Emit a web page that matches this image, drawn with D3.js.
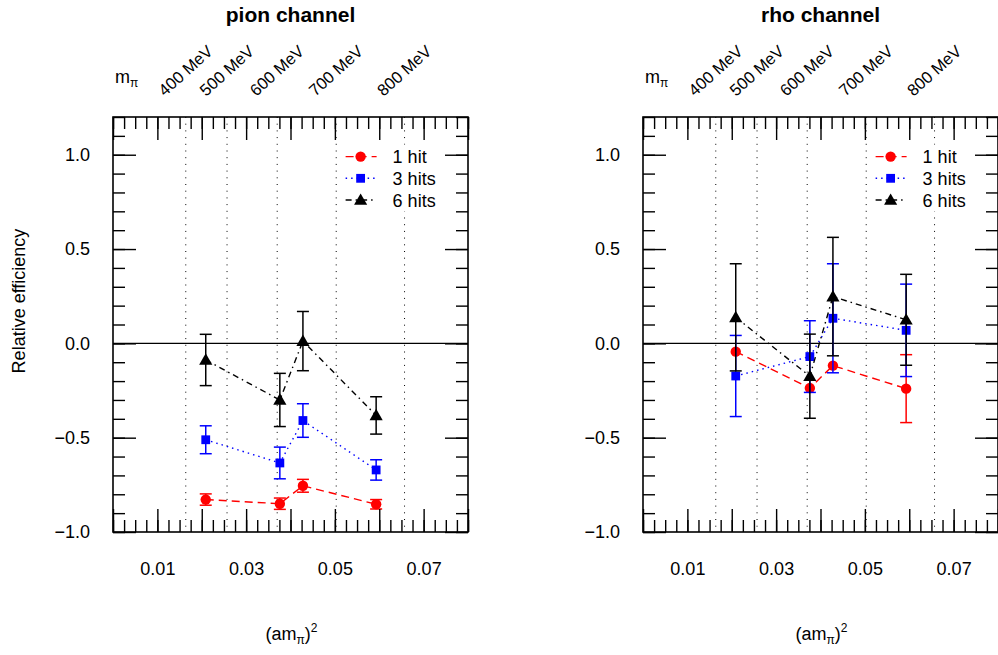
<!DOCTYPE html>
<html>
<head>
<meta charset="utf-8">
<script src="https://cdn.jsdelivr.net/npm/d3@7"></script>
<style>
  body { margin: 0; background: #fff; }
  svg text { font-family: "Liberation Sans", Arial, sans-serif; fill: #000; }
</style>
</head>
<body>
<div class="container"></div>
<script>
// values
const xVals = [0.0209, 0.0376, 0.0428, 0.0593]

const pion1 = [-0.828, -0.850, -0.755, -0.853]
const pion1Err = [0.030, 0.030, 0.034, 0.025]
const pion3 = [-0.511, -0.634, -0.409, -0.671]
const pion3Err = [0.074, 0.084, 0.089, 0.054]
const pion6 = [-0.088, -0.300, 0.012, -0.382]
const pion6Err = [0.136, 0.141, 0.157, 0.099]

// error bars hidden under the markers in the picture -> 0
const rho1 = [-0.044, -0.237, -0.118, -0.240]
const rho1Err = [0, 0, 0, 0.180]
const rho3 = [-0.173, -0.070, 0.133, 0.069]
const rho3Err = [0.215, 0.190, 0.289, 0.245]
const rho6 = [0.138, -0.174, 0.248, 0.125]
const rho6Err = [0.284, 0.223, 0.314, 0.241]

const massLabels = ["400 MeV", "500 MeV", "600 MeV", "700 MeV", "800 MeV"]
const massX = [0.0164, 0.0257, 0.0370, 0.0503, 0.0657]

const xMajor = [0, 0.01, 0.02, 0.03, 0.04, 0.05, 0.06, 0.07, 0.08]
const xMinor = d3.range(0, 0.0801, 0.0025)
const xLabels = [0.01, 0.03, 0.05, 0.07]
const yMajor = [-1, -0.5, 0, 0.5, 1]
const yMinor = d3.range(-1, 1.201, 0.1)
const yLabels = [-1, -0.5, 0, 0.5, 1]

const legendNames = ["1 hit", "3 hits", "6 hits"]

const w = 998
const h = 655
const pw = 355, ph = 415, plotTop = 117

const styles = [
  {color: "#ff0000", dash: "8,5", shape: "circle"},
  {color: "#0000ff", dash: "1.5,4", shape: "square"},
  {color: "#000000", dash: "6,4,1.5,4", shape: "triangle"}
]

const panels = [
  {title: "pion channel", left: 113, ylab: true,
   series: [[pion1, pion1Err], [pion3, pion3Err], [pion6, pion6Err]]},
  {title: "rho channel", left: 643, ylab: false,
   series: [[rho1, rho1Err], [rho3, rho3Err], [rho6, rho6Err]]}
]

const svg = d3.select(".container")
  .append("svg")
  .attr("width", w)
  .attr("height", h)

const x = d3.scaleLinear().domain([0, 0.08]).range([0, pw])
const y = d3.scaleLinear().domain([-1, 1.2]).range([ph, 0])

function marker(g, shape, cx, cy, color) {
  if (shape == "circle") {
    g.append("circle").attr("cx", cx).attr("cy", cy).attr("r", 5.2).attr("fill", color)
  } else if (shape == "square") {
    g.append("rect").attr("x", cx - 4.4).attr("y", cy - 4.4)
      .attr("width", 8.8).attr("height", 8.8).attr("fill", color)
  } else {
    g.append("path")
      .attr("d", d3.symbol(d3.symbolTriangle, 75)())
      .attr("transform", `translate(${cx},${cy + 1})`)
      .attr("fill", color)
  }
}

function tickAxis(g, axis, values, size) {
  g.call(axis.tickValues(values).tickSize(size).tickFormat(""))
  g.select(".domain").remove()
  g.selectAll(".tick line").attr("stroke", "#000").attr("stroke-width", 1.4)
}

panels.forEach(p => {
  const g = svg.append("g").attr("transform", `translate(${p.left},${plotTop})`)

  // mass lines (dotted)
  g.selectAll(".mline")
    .data(massX)
    .enter()
    .append("line")
    .attr("x1", d => x(d)).attr("x2", d => x(d))
    .attr("y1", y(1.2)).attr("y2", y(-1))
    .attr("stroke", "#000").attr("stroke-width", 1)
    .attr("stroke-dasharray", "1,5.7")

  g.selectAll(".mlab")
    .data(massLabels)
    .enter()
    .append("text")
    .attr("transform", (d, i) => `translate(${x(massX[i]) - 21},-20) rotate(-42)`)
    .attr("font-size", 16.5)
    .text(d => d)

  const ml = g.append("text").attr("x", 2).attr("y", -34).attr("font-size", 18)
  ml.append("tspan").text("m")
  ml.append("tspan").attr("font-size", 12).attr("dy", 4).text("π")

  // zero line
  g.append("line")
    .attr("x1", 0).attr("x2", pw)
    .attr("y1", y(0)).attr("y2", y(0))
    .attr("stroke", "#000").attr("stroke-width", 1.4)

  // series
  p.series.forEach((s, k) => {
    const st = styles[k]
    const vals = s[0], errs = s[1]
    const sg = g.append("g")
    const pts = xVals.map((xv, i) => [xv, vals[i]])
    sg.append("path")
      .datum(pts)
      .attr("d", d3.line().x(d => x(d[0])).y(d => y(d[1])))
      .attr("fill", "none")
      .attr("stroke", st.color)
      .attr("stroke-width", 1.4)
      .attr("stroke-dasharray", st.dash)
    xVals.forEach((xv, i) => {
      const cx = x(xv)
      if (errs[i] > 0) {
        const y1 = y(vals[i] + errs[i]), y2 = y(vals[i] - errs[i])
        sg.append("line").attr("x1", cx).attr("x2", cx).attr("y1", y1).attr("y2", y2)
          .attr("stroke", st.color).attr("stroke-width", 1.5)
        sg.append("line").attr("x1", cx - 6).attr("x2", cx + 6).attr("y1", y1).attr("y2", y1)
          .attr("stroke", st.color).attr("stroke-width", 1.5)
        sg.append("line").attr("x1", cx - 6).attr("x2", cx + 6).attr("y1", y2).attr("y2", y2)
          .attr("stroke", st.color).attr("stroke-width", 1.5)
      }
      marker(sg, st.shape, cx, y(vals[i]), st.color)
    })
  })

  // legend (white box hides the dotted lines behind it)
  const lg = g.append("g").attr("transform", `translate(${x(0.0558)},${y(0.99)})`)
  lg.append("rect").attr("x", -21).attr("y", -12).attr("width", 108).attr("height", 67)
    .attr("fill", "#fff")
  legendNames.forEach((name, k) => {
    const st = styles[k]
    const row = lg.append("g").attr("transform", `translate(0,${k * 21.7})`)
    row.append("line").attr("x1", -15).attr("x2", 16).attr("y1", 0).attr("y2", 0)
      .attr("stroke", st.color).attr("stroke-width", 1.4).attr("stroke-dasharray", st.dash)
    marker(row, st.shape, 0, 0, st.color)
    row.append("text").attr("x", 32).attr("y", 6.5).attr("font-size", 18).text(name)
  })

  // ticks on all four sides, pointing inward
  tickAxis(g.append("g").attr("transform", `translate(0,${ph})`), d3.axisTop(x), xMinor, 12)
  tickAxis(g.append("g").attr("transform", `translate(0,${ph})`), d3.axisTop(x), xMajor, 23)
  tickAxis(g.append("g"), d3.axisBottom(x), xMinor, 12)
  tickAxis(g.append("g"), d3.axisBottom(x), xMajor, 23)
  tickAxis(g.append("g"), d3.axisRight(y), yMinor, 12)
  tickAxis(g.append("g"), d3.axisRight(y), yMajor, 23)
  tickAxis(g.append("g").attr("transform", `translate(${pw},0)`), d3.axisLeft(y), yMinor, 12)
  tickAxis(g.append("g").attr("transform", `translate(${pw},0)`), d3.axisLeft(y), yMajor, 23)

  // tick labels
  const xl = g.append("g").attr("transform", `translate(0,${ph})`)
    .call(d3.axisBottom(x).tickValues(xLabels).tickSize(0).tickPadding(30).tickFormat(d3.format(".2f")))
  xl.select(".domain").remove()
  xl.selectAll("text").attr("font-size", 18).style("font-family", "Liberation Sans, Arial, sans-serif")

  const yl = g.append("g")
    .call(d3.axisLeft(y).tickValues(yLabels).tickSize(0).tickPadding(23).tickFormat(d3.format(".1f")))
  yl.select(".domain").remove()
  yl.selectAll("text").attr("font-size", 18).style("font-family", "Liberation Sans, Arial, sans-serif")

  // frame
  g.append("rect").attr("width", pw).attr("height", ph)
    .attr("fill", "none").attr("stroke", "#000").attr("stroke-width", 1.6)

  // titles
  g.append("text").attr("x", pw / 2).attr("y", -95).attr("text-anchor", "middle")
    .attr("font-size", 21).attr("font-weight", "bold").text(p.title)

  const xt = g.append("text").attr("x", pw / 2 + 1).attr("y", 523).attr("text-anchor", "middle")
    .attr("font-size", 18)
  xt.append("tspan").text("(am")
  xt.append("tspan").attr("font-size", 12).attr("dy", 4).text("π")
  xt.append("tspan").attr("dy", -4).text(")")
  xt.append("tspan").attr("font-size", 12).attr("dy", -8).text("2")

  if (p.ylab) {
    g.append("text")
      .attr("transform", `translate(-88,${301 - plotTop}) rotate(-90)`)
      .attr("text-anchor", "middle")
      .attr("font-size", 18)
      .text("Relative efficiency")
  }
})
</script>
</body>
</html>
